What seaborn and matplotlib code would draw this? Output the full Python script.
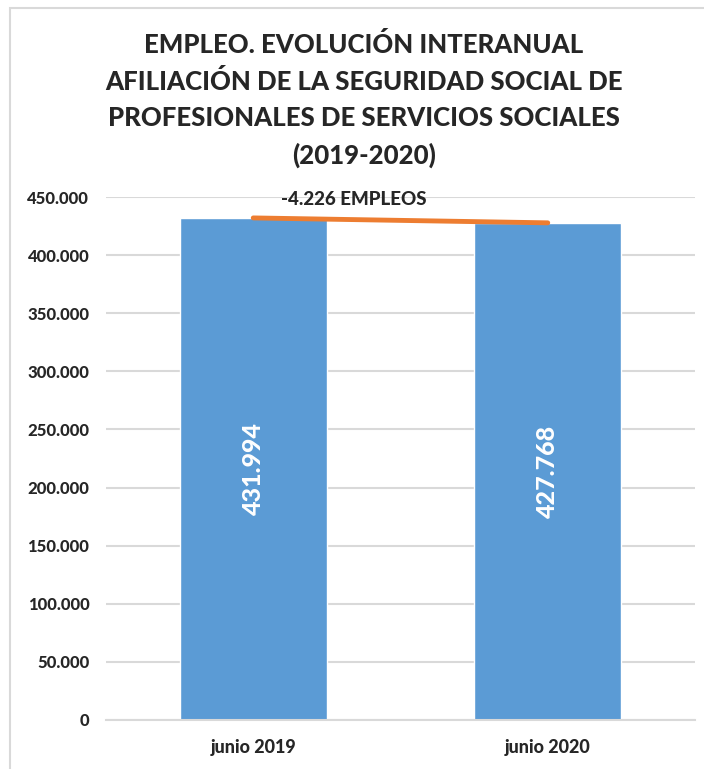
import matplotlib
matplotlib.use("Agg")
import matplotlib.pyplot as plt
import seaborn as sns
from matplotlib.patches import Rectangle

categorias = ["junio 2019", "junio 2020"]
afiliados = [431994, 427768]
yticks = [0, 50000, 100000, 150000, 200000, 250000, 300000, 350000, 400000, 450000]
titulo = ("EMPLEO. EVOLUCIÓN INTERANUAL\n"
          "AFILIACIÓN DE LA SEGURIDAD SOCIAL DE\n"
          "PROFESIONALES DE SERVICIOS SOCIALES\n"
          "(2019-2020)")


def miles(v):
    return f"{v:,.0f}".replace(",", ".")


sns.set_style("white")
plt.rcParams["font.family"] = ["Lato", "DejaVu Sans"]
peso = 900

W, H = 704, 769
fig = plt.figure(figsize=(W / 100, H / 100), dpi=100)
ax = fig.add_axes([106 / W, (H - 720) / H, (695 - 106) / W, (720 - 197) / H])

sns.barplot(x=categorias, y=afiliados, color="#5B9BD5", width=0.5,
            saturation=1, ax=ax, zorder=2)
ax.plot([0, 1], afiliados, color="#ED7D31", lw=3.5,
        solid_capstyle="round", zorder=3)

ax.set_xlim(-0.5, 1.5)
ax.set_ylim(0, 450000)
ax.set_yticks(yticks)
ax.set_yticklabels([miles(v) for v in yticks], fontsize=12, fontweight=peso)
ax.set_xticks([0, 1])
ax.set_xticklabels(categorias, fontsize=13, fontweight=peso)
ax.tick_params(axis="both", length=0, pad=12)
ax.tick_params(axis="x", pad=14)
ax.yaxis.grid(True, color="#D9D9D9", lw=1.5, zorder=0)
ax.set_axisbelow(True)
for s in ["top", "right", "left"]:
    ax.spines[s].set_visible(False)
ax.spines["bottom"].set_color("#D9D9D9")
ax.spines["bottom"].set_linewidth(1.5)
ax.set_xlabel("")
ax.set_ylabel("")

for i, v in enumerate(afiliados):
    ax.text(i, v / 2, miles(v), rotation=90, color="white", fontsize=18,
            fontweight=peso, ha="center", va="center")

dif = afiliados[1] - afiliados[0]
ax.text(0.342, 448000, f"-{miles(abs(dif))} EMPLEOS", fontsize=13.5,
        fontweight=peso, ha="center", va="center")

fig.text(364 / W, 1 - 100 / H, titulo, ha="center", va="center",
         fontsize=18.5, fontweight=peso, linespacing=1.6)

fig.patches.append(Rectangle((10 / W, -0.1), 1.2, 1 - 8 / H + 0.1,
                             transform=fig.transFigure, fill=False,
                             edgecolor="#D9D9D9", lw=1.5))

fig.savefig("out.png", dpi=100)
